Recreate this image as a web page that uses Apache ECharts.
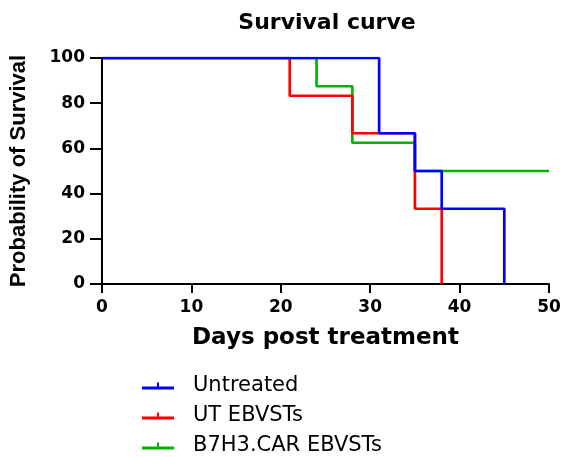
<!DOCTYPE html>
<html><head><meta charset="utf-8">
<script src="https://cdn.jsdelivr.net/npm/echarts@6/dist/echarts.min.js"></script>
<style>html,body{margin:0;padding:0;background:#fff}#c{width:564px;height:457px}</style>
</head><body><div id="c"></div>
<script>
const seriesNames = ['Untreated', 'UT EBVSTs', 'B7H3.CAR EBVSTs'];
const colors = ['#0000ff', '#ff0000', '#00b400'];
const untreated = [[0,100],[31,66.7],[35,50],[38,33.3],[45,0]];
const utEbvsts = [[0,100],[21,83.3],[28,66.7],[35,33.3],[38,0]];
const carEbvsts = [[0,100],[24,87.5],[28,62.5],[35,50],[50,50]];
const xTicks = [0,10,20,30,40,50];
const yTicks = [0,20,40,60,80,100];

const chart = echarts.init(document.getElementById('c'));
const icon = 'path://M0,4L32,4L32,7L0,7Z M15,0L17,0L17,4L15,4Z';
const dataList = [untreated, utEbvsts, carEbvsts];
const order = [2,1,0];
chart.setOption({
  animation: false,
  title: {text: 'Survival curve', left: 322, top: 7, textAlign: 'center',
    textStyle: {fontFamily: 'DejaVu Sans', fontWeight: 'bold', fontSize: 22, color: '#000'}},
  legend: {orient: 'vertical', left: 142, top: 375, height: 120, padding: 0, itemGap: 8,
    itemWidth: 32, itemHeight: 7,
    data: seriesNames.map(n => ({name: n, icon: icon})),
    textStyle: {fontFamily: 'DejaVu Sans', fontSize: 21, lineHeight: 22, color: '#000', padding: [0,0,0,14]}},
  grid: {left: 100, right: 15, top: 58, bottom: 173},
  xAxis: {type: 'value', min: 0, max: 50, interval: 10,
    name: 'Days post treatment', nameLocation: 'middle', nameGap: 43,
    nameTextStyle: {fontFamily: 'DejaVu Sans', fontWeight: 'bold', fontSize: 23, color: '#000'},
    axisLine: {show: true, lineStyle: {color: '#000', width: 2}},
    axisTick: {show: true, length: 9, lineStyle: {color: '#000', width: 2}},
    splitLine: {show: false},
    axisLabel: {fontFamily: 'DejaVu Sans', fontWeight: 'bold', fontSize: 17, color: '#000', margin: 15,
      formatter: v => xTicks.includes(v) ? String(v) : ''}},
  yAxis: {type: 'value', min: 0, max: 100, interval: 20,
    name: 'Probability of Survival', nameLocation: 'middle', nameGap: 72,
    nameTextStyle: {fontFamily: 'Liberation Sans', fontWeight: 'bold', fontSize: 22, color: '#000'},
    axisLine: {show: true, lineStyle: {color: '#000', width: 2}},
    axisTick: {show: true, length: 12, lineStyle: {color: '#000', width: 2}},
    splitLine: {show: false},
    axisLabel: {fontFamily: 'DejaVu Sans', fontWeight: 'bold', fontSize: 17, color: '#000', margin: 17,
      formatter: v => yTicks.includes(v) ? String(v) : ''}},
  series: order.map(i => ({
    name: seriesNames[i], type: 'line', step: 'end', data: dataList[i],
    showSymbol: false, symbol: 'none', color: colors[i],
    lineStyle: {width: 2.7, color: colors[i]}, z: 3 - i
  }))
});
</script></body></html>
